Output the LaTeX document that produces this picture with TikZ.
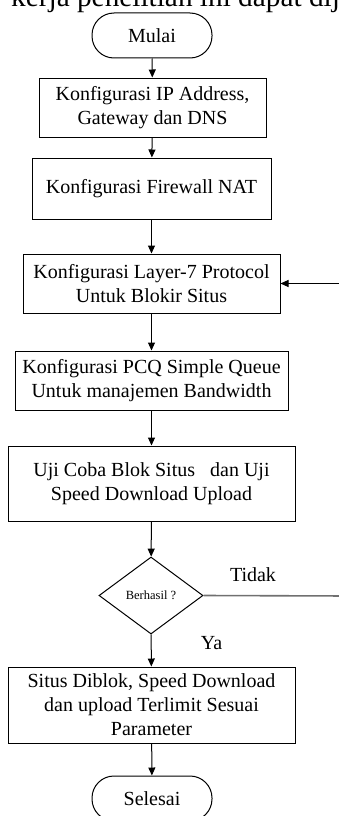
\documentclass[tikz,border=0pt]{standalone}
\usepackage{fontspec}
\setmainfont{Liberation Serif}
\usetikzlibrary{shapes.geometric,arrows.meta}
\definecolor{loopgray}{HTML}{707070}
\begin{document}
\begin{tikzpicture}[x=1pt,y=1pt,
  box/.style={draw,line width=1pt,align=center,inner sep=0pt,font=\fontsize{20}{24}\selectfont},
  term/.style={draw,line width=1pt,rounded corners=22pt,minimum width=120pt,minimum height=45pt,inner sep=0pt,font=\fontsize{20}{24}\selectfont},
  arr/.style={line width=1pt,-{Triangle[length=8pt,width=7pt]}},
  grayline/.style={line width=1.6pt,draw=loopgray},
  lbl/.style={font=\fontsize{20}{24}\selectfont,inner sep=0pt}]
\useasboundingbox (0,0) rectangle (339,-816);
\clip (0,0) rectangle (339,-816);
\node[anchor=base west,inner sep=0pt,font=\fontsize{29.3}{30}\selectfont] (head) at (11,-7) {kerja penelitian ini dapat dijelaskan};
\node[term] (mulai) at (152,-35.5) {Mulai};
\node[box,minimum width=227pt,minimum height=59pt] (b1) at (152.5,-107.5) {Konfigurasi IP Address,\\Gateway dan DNS};
\node[box,minimum width=239pt,minimum height=61pt] (b2) at (151.5,-188.5) {Konfigurasi Firewall NAT};
\node[box,minimum width=257pt,minimum height=59pt] (b3) at (151.5,-283.5) {Konfigurasi Layer-7 Protocol\\Untuk Blokir Situs};
\node[box,minimum width=273pt,minimum height=59pt] (b4) at (151.5,-380.5) {Konfigurasi PCQ Simple Queue\\Untuk manajemen Bandwidth};
\node[box,minimum width=287pt,minimum height=75pt] (b5) at (151.5,-483.5) {Uji Coba Blok Situs\ \ \ dan Uji\\Speed Download Upload};
\node[draw,diamond,line width=1pt,minimum width=104pt,minimum height=77pt,inner sep=0pt,font=\fontsize{12.5}{14}\selectfont] (dec) at (151,-595.5) {Berhasil ?};
\node[box,minimum width=287pt,minimum height=76pt] (b6) at (151.5,-705) {Situs Diblok, Speed Download\\dan upload Terlimit Sesuai\\Parameter};
\node[term] (selesai) at (152,-798.5) {Selesai};
\node[lbl] (tidak) at (253,-575) {Tidak};
\node[lbl] (ya) at (211.5,-643) {Ya};
\coordinate (lb) at (350,-596);
\draw[arr] (mulai) -- (b1);
\draw[arr] (b1) -- (b2);
\draw[arr] (b2) -- (b3);
\draw[arr] (b3) -- (b4);
\draw[arr] (b4) -- (b5);
\draw[arr] (b5) -- (dec);
\draw[arr] (dec) -- (b6);
\draw[arr] (b6) -- (selesai);
\draw[grayline] (dec.east) -- (lb);
\draw[arr] (lb) |- (b3.east);
\end{tikzpicture}
\end{document}
